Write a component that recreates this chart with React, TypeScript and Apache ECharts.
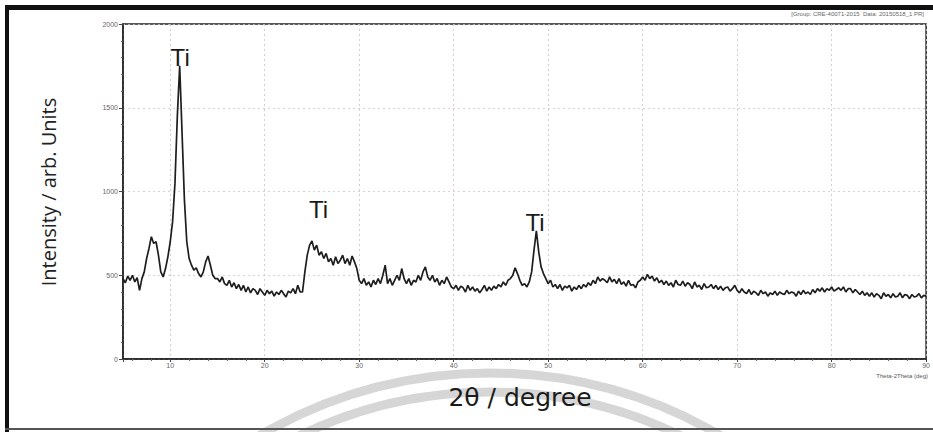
import React, { useEffect, useRef } from "react";
import * as echarts from "echarts";

// Scan: 2θ from 5° to 90° in 0.25° steps
const scanStart = 5;
const scanStep = 0.25;

// Intensity readings (arb. units), four per degree
const intensity: number[] = [
  // 5–9
  480, 455, 495, 470,
  500, 460, 485, 410,
  480, 520, 600, 660,
  730, 690, 700, 620,
  520, 490, 540, 610,
  // 10–14
  700, 820, 1050, 1450,
  1750, 1350, 950, 700,
  600, 560, 530, 545,
  510, 490, 520, 580,
  615, 560, 500, 480,
  // 15–19
  480, 460, 490, 450,
  440, 470, 430, 455,
  420, 445, 410, 440,
  400, 430, 395, 420,
  410, 385, 420, 400,
  // 20–24
  380, 410, 390, 405,
  375, 400, 385, 410,
  390, 370, 405, 395,
  420, 390, 440, 400,
  400, 520, 620, 680,
  // 25–29
  705, 650, 680, 620,
  640, 600, 630, 580,
  600, 560, 610, 570,
  590, 620, 570, 600,
  560, 615, 580, 540,
  // 30–34
  470, 450, 480, 440,
  460, 430, 470, 445,
  480, 450, 500, 560,
  450, 480, 440, 470,
  500, 470, 540, 480,
  // 35–39
  450, 480, 440, 470,
  460, 500, 470, 520,
  550, 490, 470, 500,
  460, 480, 440, 470,
  450, 490, 460, 430,
  // 40–44
  420, 440, 410, 435,
  425, 400, 440, 410,
  430, 405, 420, 395,
  415, 440, 405, 430,
  410, 435, 420, 445,
  // 45–49
  430, 460, 440, 470,
  480, 500, 545, 510,
  470, 440, 450, 430,
  460, 520, 650, 765,
  640, 550, 510, 480,
  // 50–54
  450, 470, 430, 445,
  420, 445, 410, 435,
  425, 440, 405, 430,
  415, 440, 420, 445,
  430, 455, 440, 470,
  // 55–59
  450, 490, 465, 480,
  470, 455, 490, 460,
  475, 450, 480, 445,
  460, 435, 470, 440,
  445, 425, 460, 470,
  // 60–64
  490, 470, 505, 480,
  495, 465, 485, 455,
  470, 445, 465, 440,
  455, 430, 470, 445,
  440, 465, 435, 455,
  // 65–69
  445, 420, 460, 430,
  440, 415, 450, 425,
  430, 445, 420, 440,
  415, 435, 410, 425,
  430, 405, 420, 440,
  // 70–74
  410, 395, 420, 400,
  390, 415, 385, 405,
  395, 380, 410, 390,
  400, 375, 395, 385,
  405, 380, 400, 390,
  // 75–79
  385, 410, 390, 400,
  395, 375, 405, 385,
  410, 390, 400, 385,
  415, 395, 420, 405,
  425, 400, 420, 410,
  // 80–84
  430, 405, 415, 425,
  410, 430, 400, 420,
  420, 395, 415, 400,
  385, 405, 380, 395,
  375, 395, 370, 390,
  // 85–89
  380, 360, 395, 375,
  385, 365, 390, 370,
  375, 395, 365, 385,
  380, 360, 385, 370,
  375, 390, 365, 380,
  // 90
  375,
];

// Peak annotations
const peakLabels = ["Ti", "Ti", "Ti"];
const peakLabelX = [11.05, 25.7, 48.6];
const peakLabelY = [1800, 890, 815];

const yTicks = [0, 500, 1000, 1500, 2000];

export default function App() {
  const ref = useRef<HTMLDivElement>(null);

  useEffect(() => {
    if (!ref.current) return;
    const chart = echarts.init(ref.current, null, { renderer: "svg" });
    const data = intensity.map((v, i) => [scanStart + i * scanStep, v]);

    chart.setOption({
      animation: false,
      backgroundColor: "#ffffff",
      grid: {
        left: 123,
        right: 5,
        top: 24,
        bottom: 73,
        show: true,
        borderColor: "#222",
        borderWidth: 1.5,
        backgroundColor: "transparent",
      },
      xAxis: {
        type: "value",
        min: 5,
        max: 90,
        splitNumber: 9,
        axisLine: { show: true, lineStyle: { color: "#222", width: 1.5 } },
        axisTick: { show: true, inside: false, length: 3, lineStyle: { color: "#444" } },
        minorTick: { show: true, splitNumber: 5, length: 2, lineStyle: { color: "#666" } },
        axisLabel: {
          fontSize: 7,
          color: "#666",
          margin: 3,
          fontFamily: "Liberation Sans",
          showMinLabel: false,
        },
        splitLine: { show: true, lineStyle: { color: "#c9c0c0", type: [2, 3], width: 0.8 } },
      },
      yAxis: {
        type: "value",
        min: 0,
        max: 2000,
        interval: 500,
        axisLine: { show: true, lineStyle: { color: "#222", width: 1.5 } },
        axisTick: { show: true, inside: false, length: 4, lineStyle: { color: "#444" } },
        minorTick: { show: true, splitNumber: 5, length: 2, lineStyle: { color: "#666" } },
        axisLabel: {
          fontSize: 7,
          color: "#666",
          margin: 5,
          fontFamily: "Liberation Sans",
          formatter: (v: number) => (yTicks.includes(v) ? String(v) : ""),
        },
        splitLine: { show: true, lineStyle: { color: "#d4c4c4", type: [2, 3], width: 0.8 } },
      },
      series: [
        {
          type: "line",
          data,
          showSymbol: false,
          symbol: "none",
          lineStyle: { color: "#1e1e1e", width: 1.7 },
          markPoint: {
            symbol: "circle",
            symbolSize: 0.1,
            itemStyle: { color: "transparent" },
            label: {
              show: true,
              position: "inside",
              fontSize: 24,
              color: "#1a1a1a",
              fontFamily: "Liberation Sans",
              formatter: (p: any) => p.name,
            },
            data: peakLabels.map((name, i) => ({
              name,
              coord: [peakLabelX[i], peakLabelY[i]],
            })),
          },
        },
      ],
      graphic: [
        // watermark arcs
        {
          type: "arc",
          silent: true,
          z: -10,
          shape: { cx: 490, cy: 829, r: 456, startAngle: Math.PI * 1.2, endAngle: Math.PI * 1.8 },
          style: { stroke: "#d6d6d6", lineWidth: 9, fill: "none" },
        },
        {
          type: "arc",
          silent: true,
          z: -10,
          shape: { cx: 490, cy: 829, r: 437, startAngle: Math.PI * 1.2, endAngle: Math.PI * 1.8 },
          style: { stroke: "#d6d6d6", lineWidth: 9, fill: "none" },
        },
        // frame
        { type: "rect", shape: { x: 5, y: 5, width: 928, height: 5 }, style: { fill: "#111" } },
        { type: "rect", shape: { x: 5, y: 5, width: 4, height: 427 }, style: { fill: "#111" } },
        { type: "rect", shape: { x: 5, y: 428, width: 928, height: 2 }, style: { fill: "#555" } },
        // axis titles
        {
          type: "text",
          x: 48,
          y: 192,
          rotation: Math.PI / 2,
          style: {
            text: "Intensity / arb. Units",
            fontSize: 20,
            fontFamily: "Open Sans",
            fill: "#222",
            align: "center",
            verticalAlign: "middle",
          },
        },
        {
          type: "text",
          x: 520,
          y: 397,
          z: 10,
          style: {
            text: "2θ / degree",
            fontSize: 25,
            fontFamily: "DejaVu Sans",
            fill: "#1a1a1a",
            align: "center",
            verticalAlign: "middle",
          },
        },
        {
          type: "text",
          x: 928,
          y: 376,
          style: {
            text: "Theta-2Theta (deg)",
            fontSize: 6,
            fontFamily: "Liberation Sans",
            fill: "#555",
            align: "right",
            verticalAlign: "middle",
          },
        },
        {
          type: "text",
          x: 924,
          y: 14,
          style: {
            text: "[Group: CRE-40071-2015  Data: 20150518_1 PR]",
            fontSize: 6,
            fontFamily: "Liberation Sans",
            fill: "#666",
            align: "right",
            verticalAlign: "middle",
          },
        },
      ],
    });

    return () => chart.dispose();
  }, []);

  return (
    <div
      ref={ref}
      style={{ position: "fixed", left: 0, top: 0, width: 933, height: 432, background: "#fff" }}
    />
  );
}
